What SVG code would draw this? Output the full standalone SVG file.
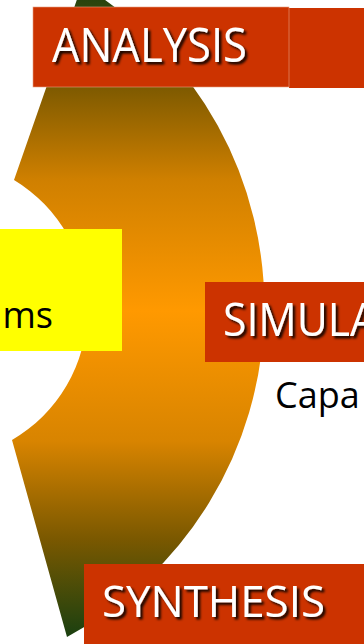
<svg xmlns="http://www.w3.org/2000/svg" width="364" height="644" viewBox="0 0 364 644">
  <style>
    .box { fill: #cc3300; }
    .hdr { font-family: "Open Sans", "Liberation Sans", sans-serif; fill: #ffffff; filter: url(#shadow); }
    .body { font-family: "Open Sans", "Liberation Sans", sans-serif; fill: #000000; font-size: 36px; }
  </style>
  <defs>
    <linearGradient id="arcGrad" gradientUnits="userSpaceOnUse" x1="0" y1="-15" x2="0" y2="637">
      <stop offset="0" stop-color="#1a4010"/>
      <stop offset="0.15" stop-color="#7a5800"/>
      <stop offset="0.3" stop-color="#d08000"/>
      <stop offset="0.5" stop-color="#ff9900"/>
      <stop offset="0.7" stop-color="#d88400"/>
      <stop offset="0.85" stop-color="#7a5800"/>
      <stop offset="1" stop-color="#1a4010"/>
    </linearGradient>
    <filter id="shadow" x="-10%" y="-20%" width="130%" height="150%">
      <feDropShadow dx="2.5" dy="2.5" stdDeviation="1" flood-color="#000000" flood-opacity="0.9"/>
    </filter>
  </defs>

  <g id="arc">
    <path d="M 82,-15 A 375 375 0 0 1 67,637 L 12,440 A 151 151 0 0 0 14,180 Z" fill="url(#arcGrad)"/>
  </g>

  <g id="connectors"></g>

  <g id="analysis">
    <rect class="box" x="289" y="8" width="75" height="80"/>
    <rect class="box" x="33" y="7" width="256" height="80" stroke="#e8a080" stroke-width="0.6"/>
    <text class="hdr" x="52" y="62" font-size="47" textLength="195" lengthAdjust="spacingAndGlyphs">ANALYSIS</text>
  </g>

  <g id="systems">
    <rect x="0" y="229" width="122" height="122" fill="#ffff00"/>
    <text class="body" x="53" y="328" text-anchor="end">ms</text>
  </g>

  <g id="simulation">
    <rect class="box" x="205" y="282" width="159" height="80"/>
    <text class="hdr" x="223" y="336" font-size="46" textLength="154" lengthAdjust="spacingAndGlyphs">SIMULA</text>
  </g>

  <g id="capacity">
    <text class="body" x="275" y="408">Capa</text>
  </g>

  <g id="synthesis">
    <rect class="box" x="84" y="564" width="280" height="80"/>
    <text class="hdr" x="102" y="617" font-size="44" textLength="223" lengthAdjust="spacingAndGlyphs">SYNTHESIS</text>
  </g>
</svg>
